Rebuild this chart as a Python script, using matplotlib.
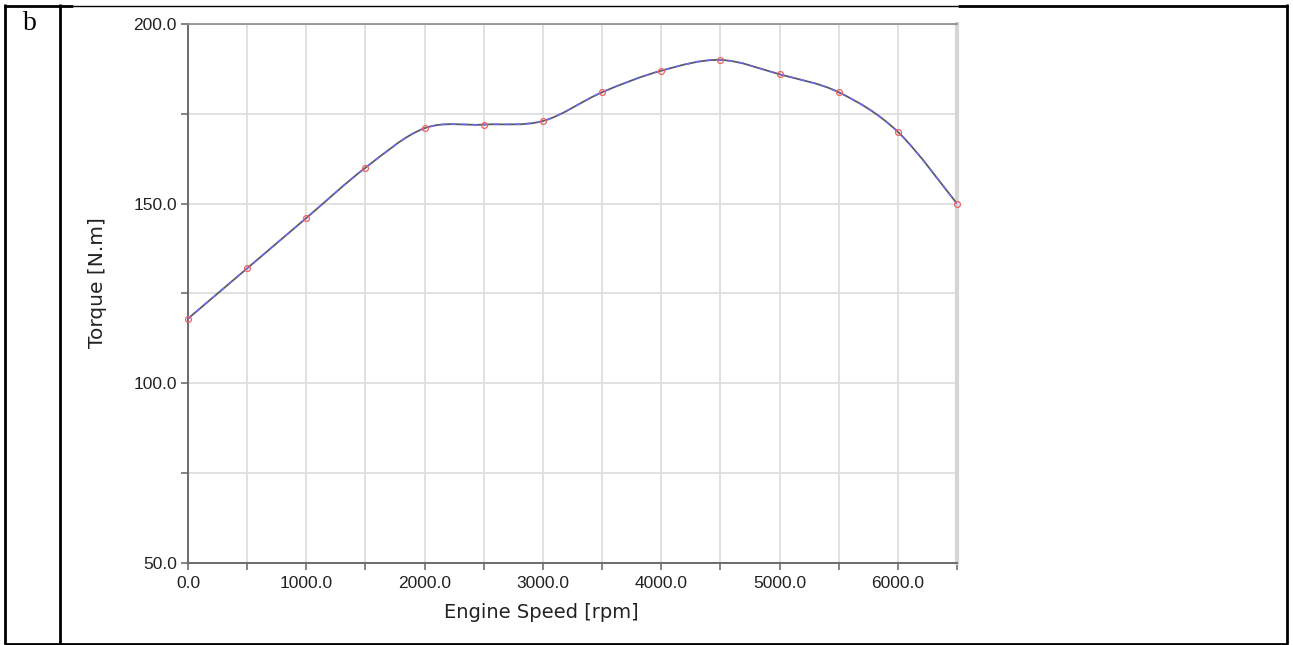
import numpy as np
import matplotlib.pyplot as plt
from matplotlib.path import Path
from matplotlib.patches import PathPatch
from matplotlib.ticker import MultipleLocator, FixedLocator

# Engine torque curve
speed_rpm = [0, 500, 1000, 1500, 2000, 2500, 3000, 3500, 4000, 4500, 5000, 5500, 6000, 6500]
torque_nm = [118, 132, 146, 160, 171, 172, 173, 181, 187, 190, 186, 181, 170, 150]

x_ticks = [0, 1000, 2000, 3000, 4000, 5000, 6000]
x_ticklabels = ["0.0", "1000.0", "2000.0", "3000.0", "4000.0", "5000.0", "6000.0"]
y_ticks = [50, 100, 150, 200]
y_ticklabels = ["50.0", "100.0", "150.0", "200.0"]

W, H = 1293, 645
fig = plt.figure(figsize=(W / 100, H / 100), dpi=100)

# table cell borders around the figure
frame = fig.add_axes([0, 0, 1, 1])
frame.set_xlim(0, W); frame.set_ylim(H, 0); frame.axis("off")
lw_b = 2.0
frame.plot([5, 5], [4, 644], color="black", lw=lw_b, solid_capstyle="butt")
frame.plot([1287, 1287], [4, 644], color="black", lw=lw_b, solid_capstyle="butt")
frame.plot([60, 60], [4, 644], color="black", lw=lw_b, solid_capstyle="butt")
frame.plot([4, 1288], [643.5, 643.5], color="black", lw=lw_b, solid_capstyle="butt")
frame.plot([4, 73], [5.5, 5.5], color="black", lw=lw_b, solid_capstyle="butt")
frame.plot([958, 1288], [5.5, 5.5], color="black", lw=lw_b, solid_capstyle="butt")
frame.plot([73, 958], [5.5, 5.5], color="black", lw=1.0, solid_capstyle="butt")
frame.text(30, 24, "b", family="Liberation Serif", fontsize=20,
           ha="center", va="center")

ax = fig.add_axes([188 / W, 1 - 563 / H, (957 - 188) / W, (563 - 24) / H])
ax.set_xlim(0, 6500)
ax.set_ylim(50, 200)

ax.xaxis.set_major_locator(FixedLocator(x_ticks))
ax.set_xticklabels(x_ticklabels)
ax.xaxis.set_minor_locator(MultipleLocator(500))
ax.yaxis.set_major_locator(FixedLocator(y_ticks))
ax.set_yticklabels(y_ticklabels)
ax.yaxis.set_minor_locator(MultipleLocator(25))

ax.grid(True, which="both", color="#dedede", lw=1.3)
ax.set_axisbelow(True)
ax.tick_params(which="both", direction="out", length=5, width=1.2, color="#707070",
               labelsize=12.5, pad=3)
ax.tick_params(axis="x", which="major", pad=4)
for lab in ax.get_xticklabels() + ax.get_yticklabels():
    lab.set_family("Liberation Sans")
    lab.set_color("#222222")

for s in ["left", "bottom"]:
    ax.spines[s].set_color("#6a6a6a")
    ax.spines[s].set_linewidth(1.4)
ax.spines["top"].set_color("#8a8a8a")
ax.spines["top"].set_linewidth(1.2)
ax.spines["right"].set_color("#d6d6d6")
ax.spines["right"].set_linewidth(3)

ax.set_xlabel("Engine Speed [rpm]", fontsize=14, color="#222222")
ax.set_ylabel("Torque [N.m]", fontsize=14.5, color="#222222")
ax.xaxis.label.set_va("center")
ax.xaxis.set_label_coords(0.460, -0.091)
ax.yaxis.label.set(rotation_mode="default", va="center", ha="center")
ax.yaxis.set_label_coords(-0.118, 0.521)

# smooth curve through the points (Catmull-Rom as cubic Bezier segments)
px = np.array(speed_rpm, dtype=float)
py = np.array(torque_nm, dtype=float)
verts = [(px[0], py[0])]
codes = [Path.MOVETO]
n = len(px)
for i in range(n - 1):
    p0 = np.array([px[max(i - 1, 0)], py[max(i - 1, 0)]])
    p1 = np.array([px[i], py[i]])
    p2 = np.array([px[i + 1], py[i + 1]])
    p3 = np.array([px[min(i + 2, n - 1)], py[min(i + 2, n - 1)]])
    c1 = p1 + (p2 - p0) / 6.0
    c2 = p2 - (p3 - p1) / 6.0
    verts += [tuple(c1), tuple(c2), tuple(p2)]
    codes += [Path.CURVE4] * 3
path = Path(verts, codes)
ax.add_patch(PathPatch(path, facecolor="none", edgecolor="#5a5a6a", lw=1.3, zorder=3))
ax.add_patch(PathPatch(path, facecolor="none", edgecolor="#6a6aff", lw=1.1,
                       linestyle=(0, (3, 4)), zorder=3.5))

ax.plot(speed_rpm, torque_nm, linestyle="none", marker="o", markersize=4.2,
        markerfacecolor="none", markeredgecolor="#f06060", markeredgewidth=0.9,
        zorder=4, clip_on=False)

fig.savefig("out.png", dpi=100)
